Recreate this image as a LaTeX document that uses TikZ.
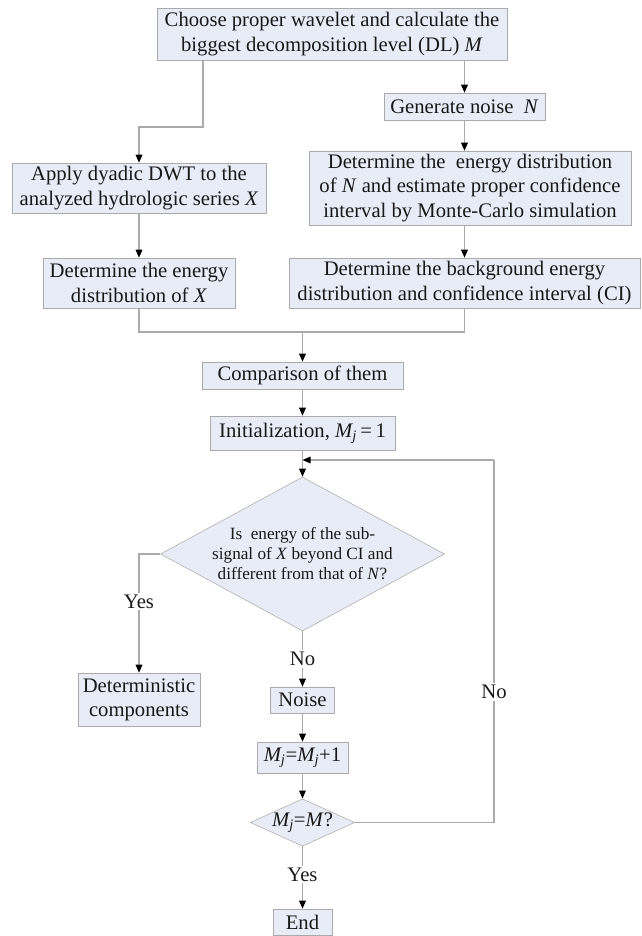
\documentclass[tikz,border=0pt]{standalone}
\usepackage{fontspec}
\setmainfont{Liberation Serif}
\usetikzlibrary{shapes.geometric,arrows.meta}
\definecolor{boxfill}{RGB}{232,236,246}
\definecolor{linegray}{RGB}{170,170,170}
\definecolor{textgray}{RGB}{25,25,25}
\newcommand{\Mj}{\textit{M\textsubscript{j}}}

\begin{document}
\begin{tikzpicture}[x=0.75pt,y=0.75pt,yscale=-1,xscale=1,
  box/.style={draw=linegray,fill=boxfill,align=center,inner sep=0pt,text=textgray,font=\fontsize{15.5}{18.2}\selectfont},
  decision/.style={diamond,draw=linegray,fill=boxfill,align=center,inner sep=0pt,text=textgray},
  conn/.style={draw=linegray,line width=0.8pt},
  arr/.style={conn,-{Triangle[color=black,length=6pt,width=5pt]}},
  lbl/.style={fill=white,inner sep=1.5pt,text=textgray,font=\fontsize{15.5}{18.2}\selectfont}]
			\useasboundingbox (0,0) rectangle (642,936);
			
			\node[box,minimum width=262.5pt,minimum height=39pt] (top) at (332,34) {Choose proper wavelet and calculate the\\ biggest decomposition level (DL) \textit{M}};
			\node[box,minimum width=120.75pt,minimum height=20.25pt] (gen) at (464.5,106.5) {Generate noise\ \ \textit{N}};
			\node[box,minimum width=241.5pt,minimum height=55.5pt] (detN) at (470,188) {Determine the\ \ energy distribution\\ of \textit{N} and estimate proper confidence\\ interval by Monte-Carlo simulation};
			\node[box,minimum width=190.5pt,minimum height=37.5pt] (apply) at (139,188) {Apply dyadic DWT to the\\ analyzed hydrologic series \textit{X}};
			\node[box,minimum width=144pt,minimum height=37.5pt] (detX) at (139,283) {Determine the energy\\ distribution of \textit{X}};
			\node[box,minimum width=263.25pt,minimum height=37.5pt] (detBG) at (464.5,283) {Determine the background energy\\ distribution and confidence interval (CI)};
			\node[box,minimum width=150.75pt,minimum height=20.25pt] (comp) at (302.5,375.5) {Comparison of them};
			\node[box,minimum width=138.75pt,minimum height=25.5pt] (init) at (302.5,433) {Initialization, \Mj\,=\,1};
			\node[decision,aspect=1.8,minimum width=213pt,minimum height=115.5pt,font=\fontsize{12.9}{15}\selectfont] (test) at (302.5,554) {Is\ \ energy of the sub-\\ signal of \textit{X} beyond CI and\\ different from that of \textit{N}?};
			\node[box,minimum width=91.5pt,minimum height=39.75pt] (determ) at (139,699.5) {Deterministic\\ components};
			\node[box,minimum width=48pt,minimum height=19.5pt] (noise) at (302.5,700) {Noise};
			\node[box,minimum width=68.25pt,minimum height=23.25pt] (incr) at (302.5,757.5) {\Mj=\Mj+1};
			\node[decision,aspect=2.2,minimum width=71.25pt,minimum height=32.25pt,font=\fontsize{15.5}{18.2}\selectfont] (last) at (302.5,822.5) {\Mj=\textit{M}?};
			\node[box,minimum width=44.25pt,minimum height=19.5pt] (end) at (302.5,922) {End};
			
			\coordinate (bendA) at (203,127);
			\coordinate (merge) at (302.5,332);
			\coordinate (loopc) at (494,460);
			
			\draw[arr] (top.south -| bendA) -- (bendA) -| (apply.north);
			\draw[arr] (top.south -| gen.north) -- (gen.north);
			\draw[arr] (gen.south) -- (gen.south |- detN.north);
			\draw[arr] (detN.south -| detBG.north) -- (detBG.north);
			\draw[arr] (apply) -- (detX);
			\draw[conn] (detX.south) |- (merge);
			\draw[conn] (detBG.south) |- (merge);
			\draw[arr] (merge) -- (comp);
			\draw[arr] (comp) -- (init);
			\draw[arr] (init) -- (test);
			\draw[arr] (test.west) -| node[lbl,pos=0.7] {Yes} (determ.north);
			\draw[arr] (test.south) -- node[lbl] {No} (noise.north);
			\draw[arr] (noise) -- (incr);
			\draw[arr] (incr) -- (last);
			\draw[arr] (last.south) -- node[lbl,pos=0.45] {Yes} (end.north);
			\draw[conn] (last.east) -| node[lbl,pos=0.68] {No} (loopc);
			\draw[arr] (loopc) -- (init.south |- loopc);
\end{tikzpicture}
\end{document}
